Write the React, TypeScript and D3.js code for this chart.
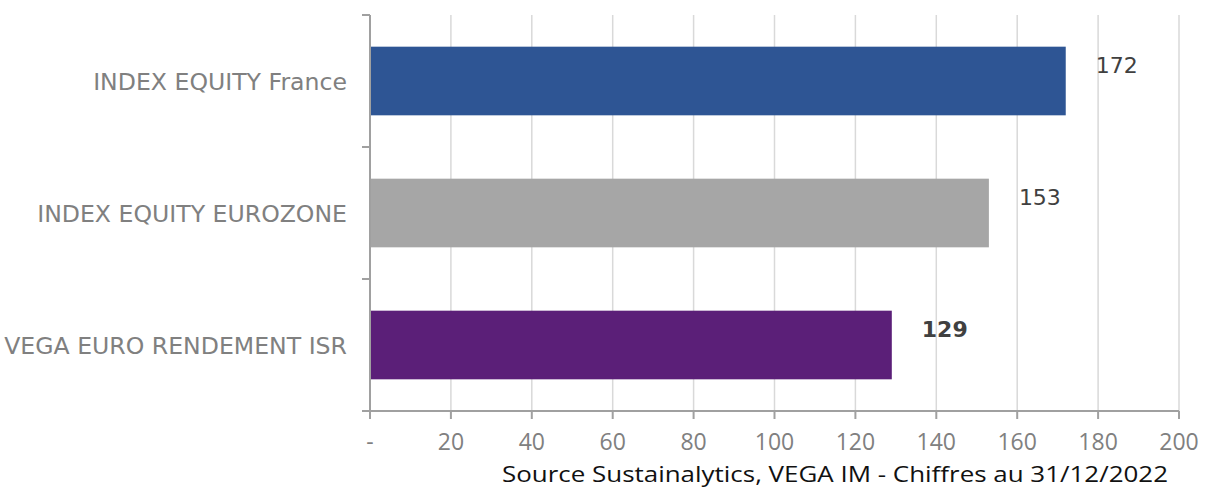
import * as d3 from 'd3';

const categories = ['INDEX EQUITY France', 'INDEX EQUITY EUROZONE', 'VEGA EURO RENDEMENT ISR'];
const values = [172, 153, 129];
const barColors = ['#2E5594', '#A6A6A6', '#5B1F78'];
const boldLabel = [false, false, true];
const xTicks = [0, 20, 40, 60, 80, 100, 120, 140, 160, 180, 200];
const sourceText = 'Source Sustainalytics, VEGA IM - Chiffres au 31/12/2022';

const width = 1207;
const height = 488;
const margin = { top: 15, right: 28, bottom: 77, left: 370 };

export default function App() {
  const x = d3
    .scaleLinear()
    .domain([0, 200])
    .range([margin.left, width - margin.right]);

  const y = d3
    .scaleBand()
    .domain(categories)
    .range([margin.top, height - margin.bottom])
    .paddingInner(0.48)
    .paddingOuter(0.24);

  const top = margin.top;
  const bottom = height - margin.bottom;
  // category boundaries for the left axis ticks
  const bounds = d3
    .range(categories.length + 1)
    .map((i) => top + (bottom - top) * (i / categories.length));

  return (
    <svg
      width={width}
      height={height}
      style={{ position: 'absolute', left: 0, top: 0, background: '#fff' }}
    >
      {/* grid */}
      {xTicks.slice(1).map((t) => (
        <line key={t} x1={x(t)} x2={x(t)} y1={top} y2={bottom} stroke="#D9D9D9" strokeWidth={1.5} />
      ))}

      {/* bars */}
      {categories.map((c, i) => (
        <rect
          key={c}
          x={x(0)}
          y={y(c)}
          width={x(values[i]) - x(0)}
          height={y.bandwidth()}
          fill={barColors[i]}
        />
      ))}

      {/* axes */}
      <line x1={x(0)} x2={x(0)} y1={top} y2={bottom} stroke="#A0A0A0" strokeWidth={2} />
      <line x1={x(0)} x2={x(200)} y1={bottom} y2={bottom} stroke="#A0A0A0" strokeWidth={2} />
      {bounds.map((b, i) => (
        <line key={i} x1={x(0) - 8} x2={x(0)} y1={b} y2={b} stroke="#A0A0A0" strokeWidth={2} />
      ))}
      {xTicks.map((t) => (
        <line key={t} x1={x(t)} x2={x(t)} y1={bottom} y2={bottom + 8} stroke="#A0A0A0" strokeWidth={2} />
      ))}

      {/* tick labels */}
      {xTicks.map((t) => (
        <text
          key={t}
          x={x(t)}
          y={450}
          textAnchor="middle"
          fontFamily="'Open Sans', sans-serif"
          fontSize={23}
          fill="#808080"
        >
          {t === 0 ? '-' : t}
        </text>
      ))}

      {/* category labels */}
      {categories.map((c) => (
        <text
          key={c}
          x={347}
          y={(y(c) ?? 0) + y.bandwidth() / 2}
          dy="0.38em"
          textAnchor="end"
          fontFamily="'DejaVu Sans', Verdana, sans-serif"
          fontSize={23.6}
          fill="#808080"
        >
          {c}
        </text>
      ))}

      {/* value labels */}
      {categories.map((c, i) => (
        <text
          key={c}
          x={x(values[i]) + 30}
          y={(y(c) ?? 0) + y.bandwidth() / 2 - 16}
          dy="0.36em"
          fontFamily="'DejaVu Sans', Verdana, sans-serif"
          fontSize={22}
          fontWeight={boldLabel[i] ? 'bold' : 'normal'}
          fill="#404040"
        >
          {values[i]}
        </text>
      ))}

      {/* source */}
      <text
        x={502}
        y={481.5}
        fontFamily="'Open Sans', sans-serif"
        fontSize={22}
        textLength={666}
        lengthAdjust="spacingAndGlyphs"
        fill="#111"
      >
        {sourceText}
      </text>
    </svg>
  );
}
